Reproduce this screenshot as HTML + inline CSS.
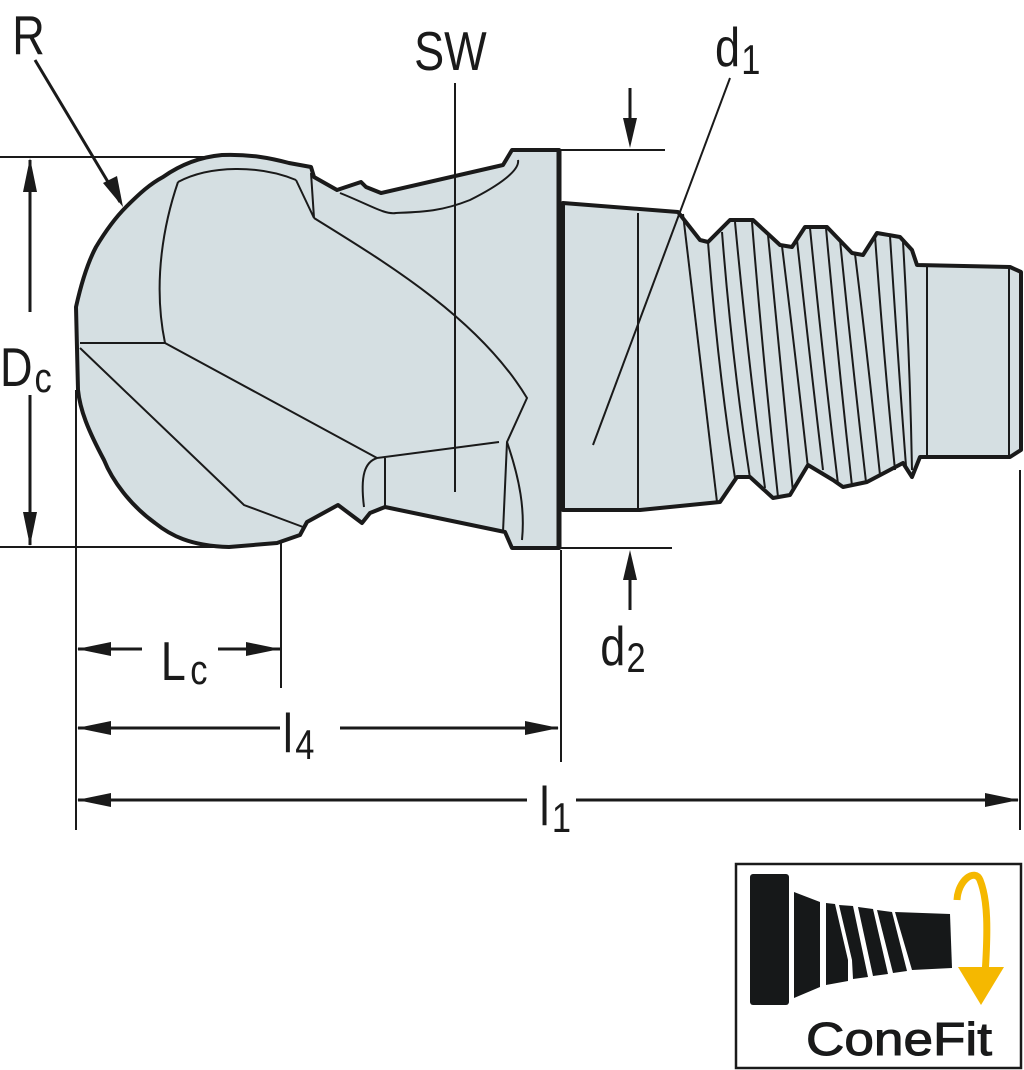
<!DOCTYPE html>
<html><head><meta charset="utf-8"><style>
html,body{margin:0;padding:0;background:#fff;}
svg{display:block;}
text{font-family:"Liberation Sans",sans-serif;fill:#1a1a1a;}
</style></head><body>
<svg width="1024" height="1070" viewBox="0 0 1024 1070" xmlns="http://www.w3.org/2000/svg">
<g stroke="#1a1a1a" fill="none">
<g stroke-width="2">
<line x1="0" y1="157" x2="232" y2="157"/>
<line x1="0" y1="547" x2="232" y2="547"/>
<line x1="560" y1="150" x2="665" y2="150"/>
<line x1="560" y1="548" x2="672" y2="548"/>
<line x1="76" y1="390" x2="76" y2="830"/>
<line x1="281" y1="535" x2="281" y2="688"/>
<line x1="561" y1="550" x2="561" y2="762"/>
<line x1="1020" y1="470" x2="1020" y2="830"/>
</g>
<g stroke-width="3">
<line x1="30" y1="312" x2="30" y2="160"/>
<line x1="30" y1="395" x2="30" y2="545"/>
<line x1="35" y1="60" x2="120" y2="202"/>
<line x1="630" y1="88" x2="630" y2="140"/>
<line x1="630" y1="610" x2="630" y2="560"/>
<line x1="78" y1="649" x2="142" y2="649"/>
<line x1="218" y1="649" x2="280" y2="649"/>
<line x1="78" y1="728" x2="280" y2="728"/>
<line x1="340" y1="728" x2="558" y2="728"/>
<line x1="78" y1="800" x2="527" y2="800"/>
<line x1="576" y1="800" x2="1018" y2="800"/>
</g>
</g>
<g fill="#1a1a1a">
<path d="M30,158 L23,192 L37,192Z"/>
<path d="M30,546 L23,512 L37,512Z"/>
<path d="M123,207 L103,183 L117,176Z"/>
<path d="M630,148 L623,118 L637,118Z"/>
<path d="M630,550 L623,580 L637,580Z"/>
<path d="M77,649 L111,642 L111,656Z"/>
<path d="M280,649 L246,642 L246,656Z"/>
<path d="M77,728 L111,721 L111,735Z"/>
<path d="M559,728 L525,721 L525,735Z"/>
<path d="M77,800 L111,793 L111,807Z"/>
<path d="M1019,800 L985,793 L985,807Z"/>
</g>
<!-- shank -->
<path d="M563,203 L678,212 L700,240 L708,242 L730,220 L753,220 L780,245 L792,247 L805,227 L827,227 L852,253 L863,255 L877,233 L900,237 L912,250 L917,265 L1010,267 L1021,272 L1021,450 L1010,457 L920,457 L912,477 L903,463 L867,482 L843,487 L833,480 L808,465 L790,495 L773,498 L750,477 L737,477 L720,502 L640,510 L563,510 Z" fill="#d5dfe2" stroke="#1a1a1a" stroke-width="4" stroke-linejoin="round"/>
<g stroke="#1a1a1a" stroke-width="2" fill="none">
<line x1="638" y1="213" x2="638" y2="510"/>
<line x1="927" y1="265" x2="927" y2="457"/>
<line x1="1009" y1="268" x2="1009" y2="456"/>
<path d="M683,214 Q700,360 717,502"/>
<path d="M708,242 Q718,370 735,478"/>
<path d="M722,232 Q732,360 750,478"/>
<path d="M735,222 Q748,360 765,488"/>
<path d="M752,222 Q763,360 778,497"/>
<path d="M768,235 Q780,360 793,492"/>
<path d="M782,246 Q796,360 808,468"/>
<path d="M797,240 Q810,360 823,470"/>
<path d="M810,228 Q823,360 838,484"/>
<path d="M826,228 Q838,360 852,486"/>
<path d="M840,240 Q852,360 866,482"/>
<path d="M855,254 Q868,360 880,475"/>
<path d="M875,236 Q884,360 895,470"/>
<path d="M890,236 Q898,360 906,466"/>
<path d="M903,242 Q910,360 912,470"/>
</g>
<!-- head -->
<path d="M222,155 C250,154 270,158 289,163 L311,167 L314,177 L337,190 L361,182 L366,187 L381,193 L503,165 L512,150 L559,150 L559,548 L512,548 L505,532 L385,507 L370,513 L362,523 L338,505 L307,522 L300,535 L277,543 L229,547 C190,546 170,535 155,523 C130,505 112,480 104,460 C88,430 80,410 78,390 L76,307 C82,280 88,262 96,247 C105,232 115,218 126,207 C140,193 150,184 163,177 C180,165 200,157 222,155 Z" fill="#d5dfe2" stroke="#1a1a1a" stroke-width="4" stroke-linejoin="round"/>
<line x1="559" y1="150" x2="559" y2="548" stroke="#1a1a1a" stroke-width="5"/>
<g stroke="#1a1a1a" stroke-width="2" fill="none">
<path d="M178,182 C165,220 152,280 165,343"/>
<path d="M178,182 C210,165 260,165 296,180"/>
<path d="M296,180 L314,218 L311,173"/>
<path d="M80,343 L165,343 L377,458 L499,442"/>
<path d="M80,348 L244,505 L303,527"/>
<path d="M314,218 C390,265 480,320 527,398 L507,442 L503,532"/>
<path d="M507,442 C520,480 525,510 522,540"/>
<line x1="385" y1="458" x2="385" y2="507"/>
<path d="M377,458 C365,462 360,475 364,507"/>
<path d="M340,193 C370,205 385,215 396,213 C420,212 440,212 470,200 C500,185 520,170 518,160"/>
<line x1="455" y1="83" x2="455" y2="492"/>
<line x1="730" y1="78" x2="593" y2="445"/>
</g>
<!-- labels -->
<g font-size="55" transform="scale(0.82,1)">
<text x="15" y="54">R</text>
<text x="505" y="70">SW</text>
<text x="872" y="66">d</text>
<text x="0" y="386">D</text>
<text x="196" y="680">L</text>
<text x="345" y="752">l</text>
<text x="658" y="825">l</text>
<text x="732" y="665">d</text>
</g>
<g font-size="42" transform="scale(0.82,1)">
<text x="904" y="74">1</text>
<text x="42" y="392">c</text>
<text x="232" y="684">c</text>
<text x="360" y="759">4</text>
<text x="673" y="832">1</text>
<text x="764" y="672">2</text>
</g>
<!-- ConeFit box -->
<rect x="736" y="864" width="285" height="204" fill="#fff" stroke="#1a1a1a" stroke-width="2.5"/>
<g fill="#161819">
<rect x="750" y="874" width="39" height="131" rx="3"/>
<path d="M794,892 L820,902 L820,987 L794,998Z"/>
<path d="M826,903 L835,904 L848,960 L848,981 L826,985Z"/>
<path d="M839,905 L853,906 L868,977 L853,979 L852,960Z"/>
<path d="M858,907 L873,909 L888,974 L873,976Z"/>
<path d="M877,910 L892,912 L907,971 L893,973Z"/>
<path d="M895,912 L950,914 L952,968 L912,970Z"/>
</g>
<path d="M957,900 C958,880 975,868 980,880 C988,900 988,930 985,975" fill="none" stroke="#f5b800" stroke-width="7"/>
<path d="M958,967 L1004,967 L981,1005Z" fill="#f5b800"/>
<text x="806" y="1055" font-size="46" fill="#161819" textLength="186" lengthAdjust="spacingAndGlyphs" stroke="#161819" stroke-width="1">ConeFit</text>
</svg>
</body></html>
